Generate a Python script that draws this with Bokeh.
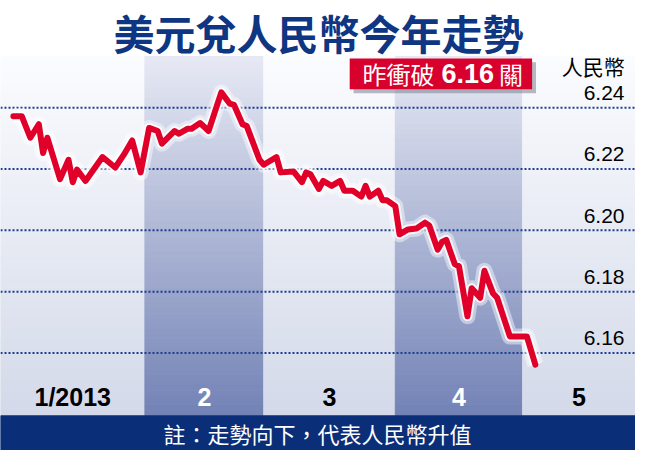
import numpy as np
import pandas as pd
from bokeh.plotting import figure
from bokeh.models import ColumnDataSource, Range1d, Label, BoxAnnotation
from bokeh.core.properties import value
from bokeh.embed import file_html
from bokeh.resources import INLINE

# ---------------- data ----------------
TITLE = "美元兌人民幣今年走勢"
NOTE = "註：走勢向下，代表人民幣升值"
UNIT = "人民幣"
TAG_PARTS = ["昨衝破", "6.16", "關"]

MONTH_LABELS = ["1/2013", "2", "3", "4", "5"]
MONTH_STARTS = ["2013-01-01", "2013-02-01", "2013-03-01", "2013-04-01", "2013-05-01"]

TICKS = [6.16, 6.18, 6.20, 6.22, 6.24]
TICK_LABELS = ["6.16", "6.18", "6.20", "6.22", "6.24"]

DATES = [
    "2013-01-01", "2013-01-03", "2013-01-05", "2013-01-07", "2013-01-08", "2013-01-09",
    "2013-01-12", "2013-01-14", "2013-01-15", "2013-01-16", "2013-01-18", "2013-01-22",
    "2013-01-25", "2013-01-27", "2013-01-29", "2013-01-31", "2013-02-02", "2013-02-04",
    "2013-02-05", "2013-02-08", "2013-02-09", "2013-02-11", "2013-02-12", "2013-02-14",
    "2013-02-16", "2013-02-19", "2013-02-21", "2013-02-22", "2013-02-24", "2013-02-25",
    "2013-02-28", "2013-03-01", "2013-03-04", "2013-03-05", "2013-03-08", "2013-03-10",
    "2013-03-11", "2013-03-12", "2013-03-14", "2013-03-15", "2013-03-17", "2013-03-19",
    "2013-03-20", "2013-03-22", "2013-03-24", "2013-03-25", "2013-03-26", "2013-03-28",
    "2013-03-29", "2013-03-30", "2013-04-01", "2013-04-02", "2013-04-04", "2013-04-06",
    "2013-04-08", "2013-04-09", "2013-04-11", "2013-04-12", "2013-04-13", "2013-04-15",
    "2013-04-16", "2013-04-18", "2013-04-19", "2013-04-21", "2013-04-22", "2013-04-24",
    "2013-04-25", "2013-04-28", "2013-05-02", "2013-05-04",
]
RATES = [
    6.2372, 6.2372, 6.2302, 6.2346, 6.2252, 6.2302,
    6.2167, 6.2230, 6.2157, 6.2198, 6.2161, 6.2239,
    6.2205, 6.2246, 6.2293, 6.2189, 6.2334, 6.2324,
    6.2283, 6.2324, 6.2315, 6.2331, 6.2331, 6.2350,
    6.2324, 6.2450, 6.2413, 6.2409, 6.2346, 6.2340,
    6.2230, 6.2214, 6.2239, 6.2189, 6.2192, 6.2157,
    6.2189, 6.2183, 6.2135, 6.2161, 6.2145, 6.2161,
    6.2129, 6.2129, 6.2110, 6.2145, 6.2110, 6.2129,
    6.2098, 6.2098, 6.2079, 6.1987, 6.2003, 6.2006,
    6.2025, 6.2016, 6.1937, 6.1962, 6.1969, 6.1890,
    6.1883, 6.1720, 6.1811, 6.1780, 6.1868, 6.1795,
    6.1780, 6.1654, 6.1654, 6.1562,
]

# ---------------- layout / style ----------------
W, H = 635, 450
REF_W, REF_H = 651, 466
KX, KY = W / REF_W, H / REF_H


def sx(rx):
    return rx * KX


def sy(ry):
    return (REF_H - ry) * KY


NAVY = "#0b2e78"
TITLE_COLOR = "#0e3682"
RED = "#e0002a"
GRID = "#1d3d8f"
CJK = "Noto Sans CJK TC"
LATIN = "Liberation Sans"


def ms(t):
    return pd.Timestamp(t).value / 1e6


DAY = 86400000.0
X0 = ms("2013-01-01") - 3.03 * DAY
X1 = ms("2013-01-01") + 146.6 * DAY
Y0, Y1 = 6.12819, 6.27496
BG_TOP = 6.2567       # top of shaded chart area
ROW_BOTTOM = 6.1395   # bottom of month-label row
ROW_MID = 6.1458

p = figure(width=W, height=H, output_backend="svg", toolbar_location=None,
           x_axis_location=None, y_axis_location=None,
           x_range=Range1d(X0, X1), y_range=Range1d(Y0, Y1),
           min_border=0, background_fill_color="white", border_fill_color="white")
p.outline_line_color = None
p.grid.visible = False


def hex2rgb(h):
    h = h.lstrip("#")
    return np.array([int(h[i:i + 2], 16) for i in (0, 2, 4)], dtype=float)


def mix(c0, c1, t):
    c = hex2rgb(c0) * (1 - t) + hex2rgb(c1) * t
    return "#%02x%02x%02x" % tuple(int(round(v)) for v in c)


LIGHT_TOP, LIGHT_BOT = "#fbfcfe", "#d3d9e9"
DARK_TOP, DARK_BOT = "#e7e9f4", "#7282b5"

edges = [X0] + [ms(d) for d in MONTH_STARTS[1:]] + [X1]
N = 70
ys = np.linspace(ROW_BOTTOM, BG_TOP, N + 1)
L, R, B, T, C = [], [], [], [], []
for i in range(len(MONTH_STARTS)):
    dark = i % 2 == 1
    top_c, bot_c = (DARK_TOP, DARK_BOT) if dark else (LIGHT_TOP, LIGHT_BOT)
    for j in range(N):
        t = (j + 0.5) / N
        L.append(edges[i]); R.append(edges[i + 1])
        B.append(ys[j]); T.append(ys[j + 1])
        C.append(mix(bot_c, top_c, t))
p.quad(left=L, right=R, bottom=B, top=T, fill_color=C, line_color=C, line_width=1)

# navy bottom bar
p.quad(left=[X0], right=[X1], bottom=[Y0], top=[ROW_BOTTOM], fill_color=NAVY, line_color=NAVY)

# dotted grid lines
p.segment(x0=[X0] * len(TICKS), x1=[X1] * len(TICKS), y0=TICKS, y1=TICKS,
          line_color=GRID, line_width=2, line_dash="2 2")

# line with white glow
src = ColumnDataSource(dict(x=[ms(d) for d in DATES], y=RATES))
p.line("x", "y", source=src, line_color="white", line_width=16, line_alpha=0.45, line_join="round")
p.line("x", "y", source=src, line_color="white", line_width=10, line_alpha=0.8, line_join="round")
p.line("x", "y", source=src, line_color=RED, line_width=6, line_join="round", line_cap="round")

# month labels
centers = [(edges[i] + edges[i + 1]) / 2 for i in range(len(MONTH_STARTS))]
mcolors = ["white" if i % 2 == 1 else "black" for i in range(len(MONTH_LABELS))]
p.text(x=centers, y=[ROW_MID] * len(MONTH_LABELS), text=MONTH_LABELS, text_color=mcolors,
       text_font=value(LATIN), text_font_style="bold", text_font_size="25px",
       text_align="center", text_baseline="middle")

# tick labels (inside, right, above grid lines)
p.text(x=[X1] * len(TICKS), y=[t + 0.0025 for t in TICKS], text=TICK_LABELS,
       x_offset=-11, text_color="black", text_font=value(LATIN), text_font_size="21px",
       text_align="right", text_baseline="bottom")

# unit label
p.add_layout(Label(x=sx(640), y=sy(67.5), x_units="screen", y_units="screen", text=UNIT,
                   text_font=CJK, text_font_size="21px", text_color="black",
                   text_align="right", text_baseline="middle"))

# title
p.add_layout(Label(x=sx(326), y=sy(33), x_units="screen", y_units="screen", text=TITLE,
                   text_font=CJK, text_font_style="bold", text_font_size="41px",
                   text_color=TITLE_COLOR, text_align="center", text_baseline="middle"))

# note in navy bar
p.add_layout(Label(x=sx(325), y=sy(448), x_units="screen", y_units="screen", text=NOTE,
                   text_font=CJK, text_font_size="22px", text_color="white",
                   text_align="center", text_baseline="middle"))

# red tag with shadow
p.add_layout(BoxAnnotation(left=sx(362), right=sx(549), bottom=sy(96), top=sy(64),
                           left_units="screen", right_units="screen",
                           top_units="screen", bottom_units="screen",
                           fill_color="#7d8190", fill_alpha=0.55, line_color=None))
p.add_layout(BoxAnnotation(left=sx(358), right=sx(545), bottom=sy(92), top=sy(60),
                           left_units="screen", right_units="screen",
                           top_units="screen", bottom_units="screen",
                           fill_color="#d8002c", fill_alpha=1.0, line_color=None))
p.add_layout(Label(x=sx(371), y=sy(76), x_units="screen", y_units="screen", text=TAG_PARTS[0],
                   text_font=CJK, text_font_size="24px", text_color="white",
                   text_align="left", text_baseline="middle"))
p.add_layout(Label(x=sx(452), y=sy(76), x_units="screen", y_units="screen", text=TAG_PARTS[1],
                   text_font=LATIN, text_font_style="bold", text_font_size="27px",
                   text_color="white", text_align="left", text_baseline="middle"))
p.add_layout(Label(x=sx(511), y=sy(76), x_units="screen", y_units="screen", text=TAG_PARTS[2],
                   text_font=CJK, text_font_size="24px", text_color="white",
                   text_align="left", text_baseline="middle"))

open("out.html", "w").write(file_html(p, INLINE))
